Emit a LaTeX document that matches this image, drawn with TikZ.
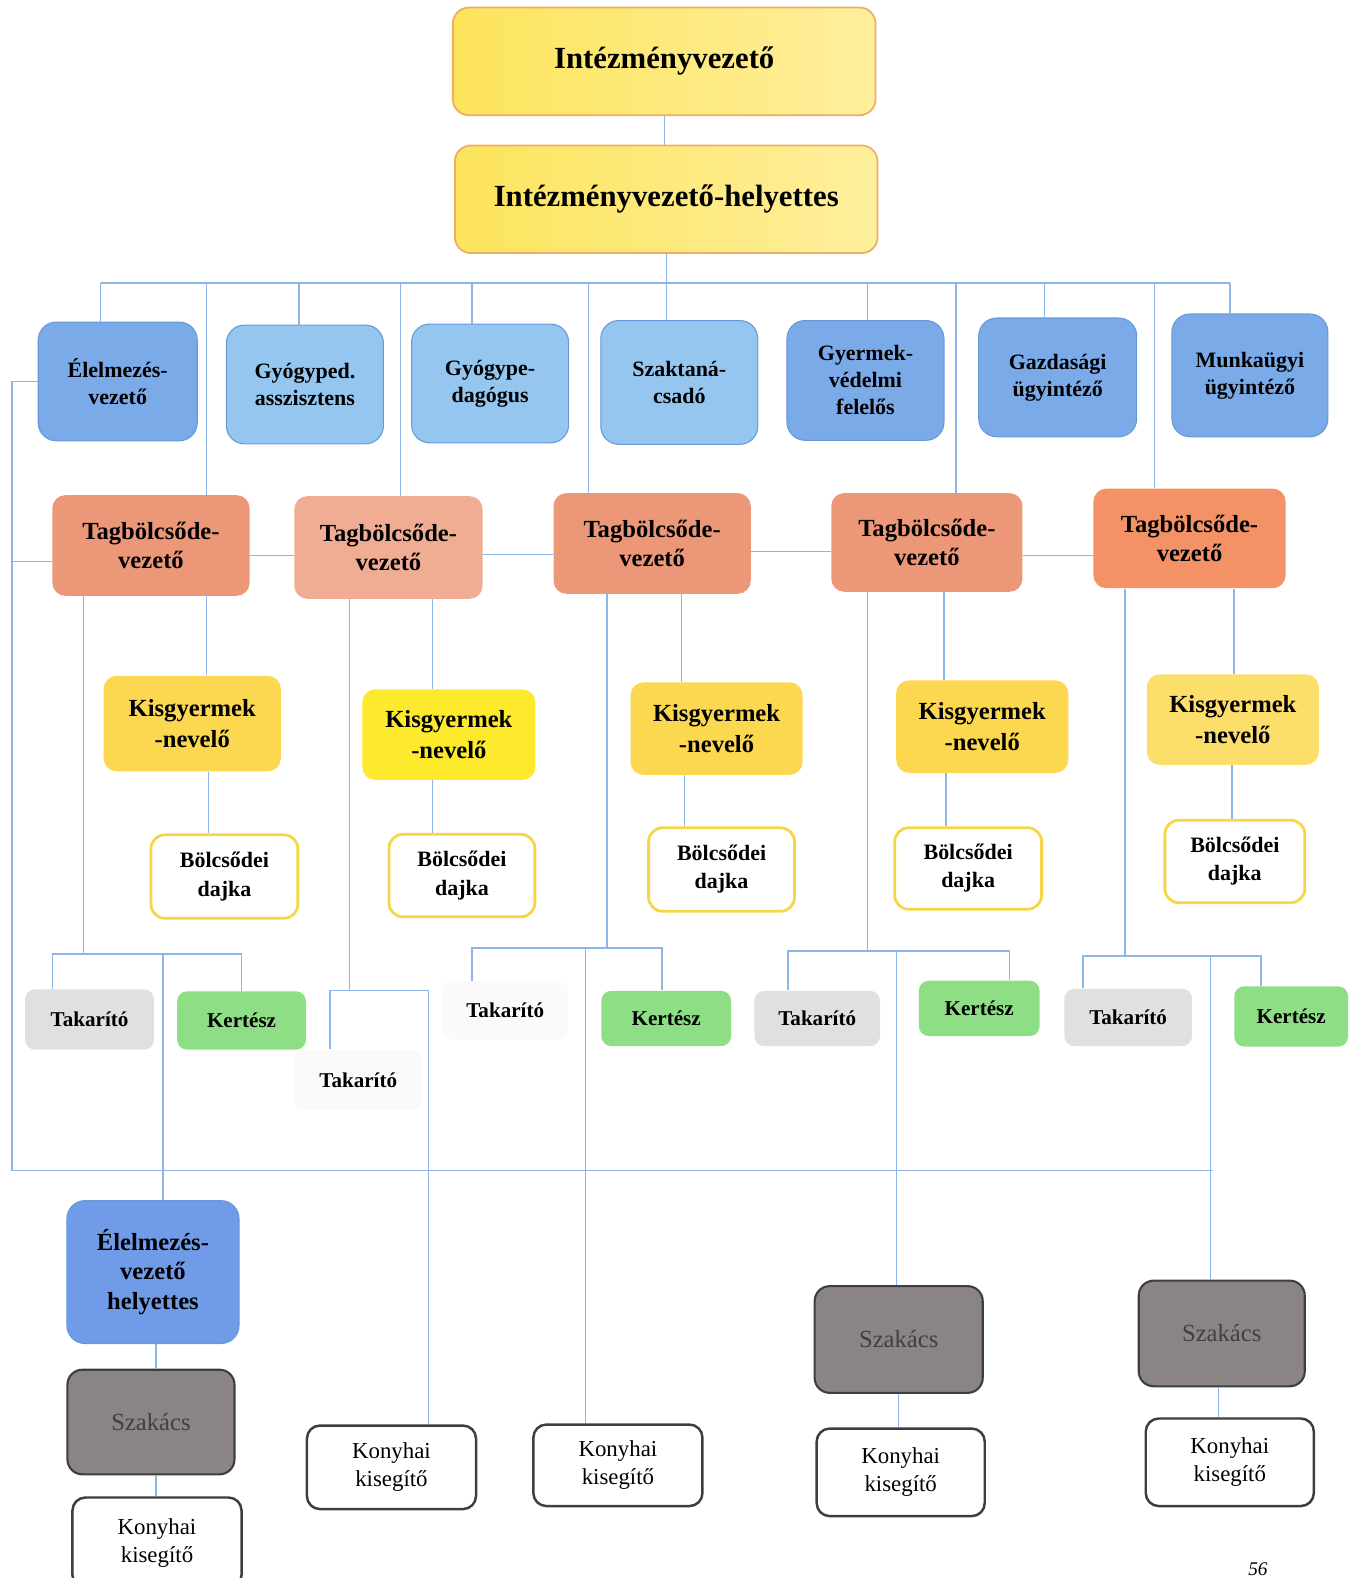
\documentclass[tikz,border=0pt]{standalone}
\usepackage{fontspec}
\setmainfont{Liberation Serif}

\definecolor{linkblue}{RGB}{140,182,232}
\definecolor{headyellow}{RGB}{253,228,92}
\definecolor{headedge}{RGB}{240,172,96}
\definecolor{staffblue}{RGB}{122,170,232}
\definecolor{staffpale}{RGB}{148,198,240}
\definecolor{staffedge}{RGB}{104,152,215}
\definecolor{deputyblue}{RGB}{112,155,232}
\definecolor{tagsalmon}{RGB}{236,152,120}
\definecolor{tagorange}{RGB}{243,146,102}
\definecolor{nurseyellow}{RGB}{252,216,80}
\definecolor{nannyedge}{RGB}{246,214,70}
\definecolor{cleangray}{RGB}{224,224,224}
\definecolor{gardgreen}{RGB}{142,222,134}
\definecolor{cookgray}{RGB}{138,132,135}
\definecolor{kitchedge}{RGB}{62,62,62}

\begin{document}
\begin{tikzpicture}[x=0.2013mm, y=-0.2013mm,
    link/.style={draw=linkblue, line width=0.8pt},
    box/.style 2 args={align=center, inner sep=1pt,
      minimum width=#1*0.2013mm, minimum height=#2*0.2013mm},
    head/.style={left color=headyellow, right color=headyellow!60!white, draw=headedge,
      line width=1pt, rounded corners=3.2mm, font={\fontsize{17.5}{21}\selectfont\bfseries}},
    staff/.style={fill=staffblue, draw=staffedge, line width=0.6pt, rounded corners=3.6mm,
      font={\fontsize{12.5}{15.4}\selectfont\bfseries}},
    deputy/.style={fill=deputyblue, draw=staffedge, line width=0.6pt, rounded corners=3.6mm,
      font={\fontsize{14}{17}\selectfont\bfseries}},
    tag/.style={fill=tagsalmon, rounded corners=2.6mm,
      font={\fontsize{14}{16.5}\selectfont\bfseries}},
    nurse/.style={fill=nurseyellow, rounded corners=2.6mm,
      font={\fontsize{14}{17.5}\selectfont\bfseries}},
    nanny/.style={fill=white, draw=nannyedge, line width=1.6pt, rounded corners=2.8mm,
      font={\fontsize{12.5}{16}\selectfont\bfseries}},
    clean/.style={fill=cleangray, rounded corners=2mm, font={\fontsize{12}{14}\selectfont\bfseries}},
    garden/.style={fill=gardgreen, rounded corners=2mm, font={\fontsize{12}{14}\selectfont\bfseries}},
    cook/.style={fill=cookgray, draw=kitchedge, line width=1.2pt, rounded corners=3mm,
      text=black!75, font={\fontsize{14}{17}\selectfont}},
    kitchen/.style={fill=white, draw=kitchedge, line width=1.4pt, rounded corners=2.6mm,
      font={\fontsize{13}{16}\selectfont}}]
  \useasboundingbox (0,0) rectangle (1348,1568);

  % Management
  \node[head, box={420}{107}] (iv) at (660,61) {Intézményvezető};
  \node[head, box={420}{107}] (ivh) at (662,198) {Intézményvezető-helyettes};

  % Staff of the institution
  \node[staff, box={158}{118}] (elv) at (117,379) {Élelmezés-\\vezető};
  \node[staff, fill=staffpale, box={156}{118}] (gya) at (303,382) {Gyógyped.\\asszisztens};
  \node[staff, fill=staffpale, box={156}{118}] (gyp) at (487,381) {Gyógype-\\dagógus};
  \node[staff, fill=staffpale, box={156}{123}] (szt) at (675,380) {Szaktaná-\\csadó};
  \node[staff, box={156}{119}] (gyv) at (860,378) {Gyermek-\\védelmi\\felelős};
  \node[staff, box={157}{118}] (gaz) at (1051,375) {Gazdasági\\ügyintéző};
  \node[staff, box={155}{122}] (mu) at (1242,373) {Munkaügyi\\ügyintéző};

  % Member nurseries
  \node[tag, box={196}{100}] (t1) at (150,542) {Tagbölcsőde-\\vezető};
  \node[tag, fill=tagsalmon!80!white, box={187}{102}] (t2) at (386,544) {Tagbölcsőde-\\vezető};
  \node[tag, box={196}{100}] (t3) at (648,540) {Tagbölcsőde-\\vezető};
  \node[tag, box={190}{98}] (t4) at (921,539) {Tagbölcsőde-\\vezető};
  \node[tag, fill=tagorange, box={191}{99}] (t5) at (1182,535) {Tagbölcsőde-\\vezető};

  \node[nurse, box={176}{95}] (k1) at (191,719) {Kisgyermek\\-nevelő};
  \node[nurse, fill=nurseyellow!55!yellow, box={172}{90}] (k2) at (446,730) {Kisgyermek\\-nevelő};
  \node[nurse, box={171}{92}] (k3) at (712,724) {Kisgyermek\\-nevelő};
  \node[nurse, box={171}{92}] (k4) at (976,722) {Kisgyermek\\-nevelő};
  \node[nurse, fill=nurseyellow!85!white, box={171}{90}] (k5) at (1225,715) {Kisgyermek\\-nevelő};

  \node[nanny, box={146}{83}] (d1) at (223,871) {Bölcsődei\\dajka};
  \node[nanny, box={145}{82}] (d2) at (459,870) {Bölcsődei\\dajka};
  \node[nanny, box={145}{83}] (d3) at (717,864) {Bölcsődei\\dajka};
  \node[nanny, box={146}{81}] (d4) at (962,863) {Bölcsődei\\dajka};
  \node[nanny, box={139}{82}] (d5) at (1227,856) {Bölcsődei\\dajka};

  \node[clean, box={128}{60}] (ta1) at (89,1013) {Takarító};
  \node[garden, box={128}{58}] (ke1) at (240,1014) {Kertész};
  \node[clean, fill=gray!4, box={127}{60}] (ta2) at (356,1073) {Takarító};
  \node[clean, fill=gray!4, box={125}{58}] (ta3) at (502,1004) {Takarító};
  \node[garden, box={129}{55}] (ke3) at (662,1012) {Kertész};
  \node[clean, box={125}{55}] (ta4) at (812,1012) {Takarító};
  \node[garden, box={120}{55}] (ke4) at (973,1002) {Kertész};
  \node[clean, box={127}{57}] (ta5) at (1121,1011) {Takarító};
  \node[garden, box={113}{60}] (ke5) at (1283,1010) {Kertész};

  % Kitchen
  \node[deputy, box={171}{142}] (evh) at (152,1264) {Élelmezés-\\vezető\\helyettes};
  \node[cook, box={166}{104}] (sz1) at (150,1413) {Szakács};
  \node[kitchen, box={168}{90}] (kk1) at (156,1533) {Konyhai\\kisegítő};
  \node[kitchen, box={168}{83}] (kk2) at (389,1458) {Konyhai\\kisegítő};
  \node[kitchen, box={168}{81}] (kk3) at (614,1456) {Konyhai\\kisegítő};
  \node[cook, box={167}{106}] (sz3) at (893,1331) {Szakács};
  \node[kitchen, box={167}{87}] (kk4) at (895,1463) {Konyhai\\kisegítő};
  \node[cook, box={165}{105}] (sz4) at (1214,1325) {Szakács};
  \node[kitchen, box={167}{87}] (kk5) at (1222,1453) {Konyhai\\kisegítő};

  % Page number
  \node[anchor=south, inner sep=0pt, font={\fontsize{11}{13}\selectfont\itshape}] (pg) at (1250,1566) {56};

  % Lines from the head
  \draw[link] (iv.south) -- (iv.south |- ivh.north);
  \draw[link] (ivh.south) -- (ivh.south |- szt.north);
  \draw[link] (100,281) -- (1222,281);
  \foreach \bx/\nd in {100/elv, 205/t1, 297/gya, 398/t2, 469/gyp, 585/t3,
                       862/gyv, 950/t4, 1038/gaz, 1147/t5, 1222/mu}
    \draw[link] (\bx,281) -- (\nd.north -| \bx,0);

  % Left side and bottom line
  \draw[link] (elv.west) -| (12,1163) -- (1205,1163);
  \draw[link] (12,558) -- (t1.west |- 0,558);
  \draw[link] (t1.east |- 0,552) -- (t2.west |- 0,552);
  \draw[link] (t2.east |- 0,551) -- (t3.west |- 0,551);
  \draw[link] (t3.east |- 0,548) -- (t4.west |- 0,548);
  \draw[link] (t4.east |- 0,552) -- (t5.west |- 0,552);

  % Nursery 1
  \draw[link] (t1.south -| 205,0) -- (k1.north -| 205,0);
  \draw[link] (k1.south -| 207,0) -- (d1.north -| 207,0);
  \draw[link] (t1.south -| 83,0) -- (83,948);
  \draw[link] (ta1.north -| 52,0) -- (52,948) -- (240,948) -- (ke1.north -| 240,0);
  \draw[link] (162,948) -- (evh.north -| 162,0);

  % Nursery 2
  \draw[link] (t2.south -| 430,0) -- (k2.north -| 430,0);
  \draw[link] (k2.south -| 430,0) -- (d2.north -| 430,0);
  \draw[link] (t2.south -| 347,0) -- (347,984);
  \draw[link] (ta2.north -| 328,0) -- (328,984) -- (426,984) -- (kk2.north -| 426,0);

  % Nursery 3
  \draw[link] (t3.south -| 677,0) -- (k3.north -| 677,0);
  \draw[link] (k3.south -| 680,0) -- (d3.north -| 680,0);
  \draw[link] (t3.south -| 603,0) -- (603,942);
  \draw[link] (ta3.north -| 469,0) -- (469,942) -- (658,942) -- (ke3.north -| 658,0);
  \draw[link] (582,942) -- (kk3.north -| 582,0);

  % Nursery 4
  \draw[link] (t4.south -| 938,0) -- (k4.north -| 938,0);
  \draw[link] (k4.south -| 940,0) -- (d4.north -| 940,0);
  \draw[link] (t4.south -| 862,0) -- (862,945);
  \draw[link] (ta4.north -| 783,0) -- (783,945) -- (1003,945) -- (ke4.north -| 1003,0);
  \draw[link] (891,945) -- (sz3.north -| 891,0);
  \draw[link] (sz3.south) -- (sz3.south |- kk4.north);

  % Nursery 5
  \draw[link] (t5.south -| 1226,0) -- (k5.north -| 1226,0);
  \draw[link] (k5.south -| 1224,0) -- (d5.north -| 1224,0);
  \draw[link] (t5.south -| 1118,0) -- (1118,950);
  \draw[link] (ta5.north -| 1076,0) -- (1076,950) -- (1253,950) -- (ke5.north -| 1253,0);
  \draw[link] (1203,950) -- (sz4.north -| 1203,0);
  \draw[link] (sz4.south -| 1211,0) -- (kk5.north -| 1211,0);

  % Kitchen of the main nursery
  \draw[link] (evh.south -| 155,0) -- (sz1.north -| 155,0);
  \draw[link] (sz1.south -| 155,0) -- (kk1.north -| 155,0);
\end{tikzpicture}
\end{document}
